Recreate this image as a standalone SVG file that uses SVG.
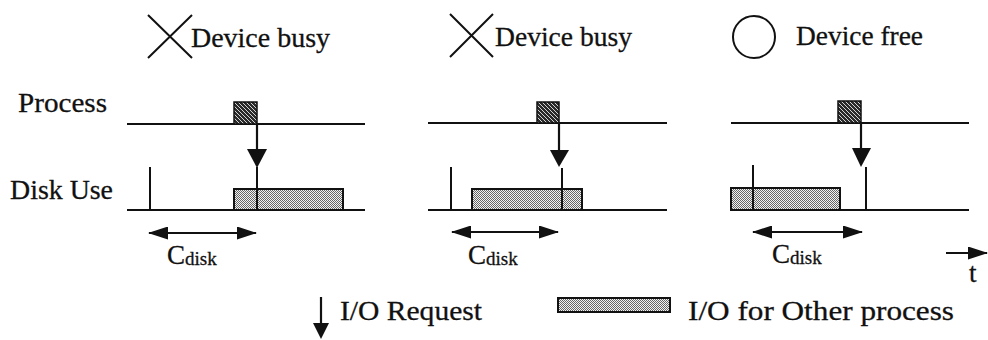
<svg xmlns="http://www.w3.org/2000/svg" width="988" height="340" viewBox="0 0 988 340">
  <style>
    .lbl { font-family: "Liberation Serif", "Times New Roman", serif; font-size: 28px; fill: #111; stroke: #111; stroke-width: 0.3; }
    .sub { font-family: "Liberation Serif", "Times New Roman", serif; font-size: 19px; fill: #111; }
    .axis { stroke: #111; stroke-width: 2; fill: none; }
    .tick { stroke: #111; stroke-width: 2; }
    .mark { stroke: #111; stroke-width: 2; fill: none; }
    .req { fill: url(#hatch); stroke: #111; stroke-width: 1.5; }
    .other { fill: url(#dots); stroke: #111; stroke-width: 2; }
    .head { fill: #111; }
    .conn { stroke: #111; stroke-width: 2.2; fill: none; }
  </style>
  <defs>
    <pattern id="hatch" width="4" height="4" patternUnits="userSpaceOnUse">
      <rect width="4" height="4" fill="#2a2a2a"/>
      <path d="M-1,-1 L5,5 M-1,3 L1,5 M3,-1 L5,1" stroke="#e8e8e8" stroke-width="0.9"/>
    </pattern>
    <pattern id="dots" width="2" height="2" patternUnits="userSpaceOnUse">
      <rect width="2" height="2" fill="#f2f2f2"/>
      <rect width="1" height="1" fill="#666"/>
      <rect x="1" y="1" width="1" height="1" fill="#666"/>
    </pattern>
    <marker id="ah" viewBox="0 0 20 13" refX="19" refY="6.5" markerWidth="20" markerHeight="13" markerUnits="userSpaceOnUse" orient="auto-start-reverse">
      <path d="M0,0 L20,6.5 L0,13 Z" fill="#111"/>
    </marker>
  </defs>

  <rect width="988" height="340" fill="#fff"/>

  <!-- row labels -->
  <g id="row-labels">
    <text class="lbl" x="18" y="112" textLength="89" lengthAdjust="spacingAndGlyphs">Process</text>
    <text class="lbl" x="10" y="199" textLength="103" lengthAdjust="spacingAndGlyphs">Disk Use</text>
  </g>

  <!-- case 1: device busy -->
  <g id="case1">
    <path class="mark" d="M148,15 L192,58 M192,15 L148,58"/>
    <text class="lbl" x="191" y="47" textLength="139" lengthAdjust="spacingAndGlyphs">Device busy</text>
    <line class="axis" x1="127" y1="124" x2="365" y2="124"/>
    <line class="axis" x1="127" y1="210" x2="365" y2="210"/>
    <rect id="case1-request" class="req" x="234" y="102" width="23" height="22"/>
    <rect id="case1-other" class="other" x="234" y="189" width="109" height="21"/>
    <line class="tick" x1="150" y1="167" x2="150" y2="211"/>
    <line class="tick" x1="257" y1="167" x2="257" y2="211"/>
    <text class="lbl" x="167" y="264" style="font-size:27px">C<tspan class="sub" dy="1">disk</tspan></text>
  </g>

  <!-- case 2: device busy -->
  <g id="case2">
    <path class="mark" d="M450,14 L493,57 M493,14 L450,57"/>
    <text class="lbl" x="495" y="46" textLength="137" lengthAdjust="spacingAndGlyphs">Device busy</text>
    <line class="axis" x1="428" y1="123" x2="667" y2="123"/>
    <line class="axis" x1="428" y1="210" x2="667" y2="210"/>
    <rect id="case2-request" class="req" x="537" y="102" width="22" height="21"/>
    <rect id="case2-other" class="other" x="472" y="189" width="110" height="21"/>
    <line class="tick" x1="451" y1="167" x2="451" y2="210"/>
    <line class="tick" x1="562" y1="168" x2="562" y2="210"/>
    <text class="lbl" x="468" y="264" style="font-size:27px">C<tspan class="sub" dy="1">disk</tspan></text>
  </g>

  <!-- case 3: device free -->
  <g id="case3">
    <circle class="mark" cx="754" cy="37" r="21"/>
    <text class="lbl" x="796" y="45" textLength="127" lengthAdjust="spacingAndGlyphs">Device free</text>
    <line class="axis" x1="731" y1="123" x2="969" y2="123"/>
    <line class="axis" x1="731" y1="210" x2="969" y2="210"/>
    <rect id="case3-request" class="req" x="838" y="101" width="23" height="22"/>
    <rect id="case3-other" class="other" x="731" y="188" width="109" height="22"/>
    <line class="tick" x1="753" y1="165" x2="753" y2="210"/>
    <line class="tick" x1="866" y1="167" x2="866" y2="210"/>
    <text class="lbl" x="772" y="263" style="font-size:27px">C<tspan class="sub" dy="1">disk</tspan></text>
  </g>

  <!-- time axis -->
  <g id="time">
    <text class="lbl" x="969" y="282" style="font-size:27px">t</text>
  </g>

  <!-- legend -->
  <g id="legend-request">
    <text class="lbl" x="340" y="320" textLength="142" lengthAdjust="spacingAndGlyphs">I/O Request</text>
  </g>
  <g id="legend-other">
    <rect class="other" x="558" y="298" width="112" height="14"/>
    <text class="lbl" x="688" y="320" textLength="266" lengthAdjust="spacingAndGlyphs">I/O for Other process</text>
  </g>

  <!-- connectors: request arrows, C_disk spans, time arrow -->
  <g id="connectors">
    <line class="conn" x1="257" y1="124" x2="257" y2="150"/>
    <path class="head" d="M247,149 L267,149 L257,168 Z"/>
    <line class="conn" x1="559" y1="123" x2="559" y2="151"/>
    <path class="head" d="M550,150 L569,150 L559,167 Z"/>
    <line class="conn" x1="861" y1="123" x2="861" y2="149"/>
    <path class="head" d="M852,148 L871,148 L861,167 Z"/>

    <line class="conn" x1="149" y1="233" x2="256" y2="233" marker-start="url(#ah)" marker-end="url(#ah)"/>
    <line class="conn" x1="452" y1="232" x2="558" y2="232" marker-start="url(#ah)" marker-end="url(#ah)"/>
    <line class="conn" x1="753" y1="232" x2="862" y2="232" marker-start="url(#ah)" marker-end="url(#ah)"/>

    <line class="conn" x1="946" y1="253" x2="987" y2="253" marker-end="url(#ah)"/>

    <line class="conn" x1="321" y1="297" x2="321" y2="325"/>
    <path class="head" d="M313,323 L329,323 L321,339 Z"/>
  </g>
</svg>
